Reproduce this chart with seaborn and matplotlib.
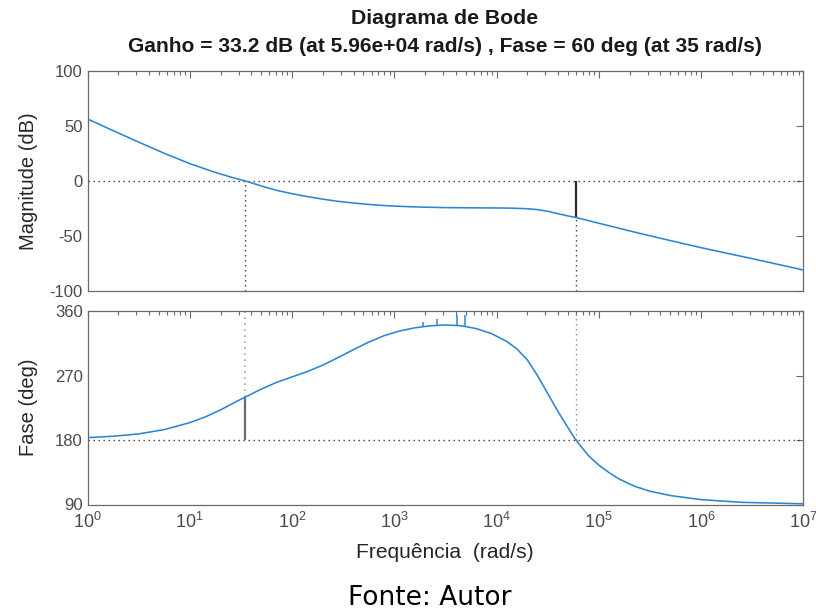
import matplotlib
matplotlib.use("Agg")
import numpy as np
import pandas as pd
import seaborn as sns
import matplotlib.pyplot as plt
from matplotlib import font_manager
from matplotlib.ticker import FixedLocator, LogLocator, NullFormatter

# ---------------- data ----------------
mag_w = [1, 1.78, 3.16, 5.62, 10, 17.8, 25.1, 35, 50.1, 70.8, 100, 141,
         200, 282, 398, 562, 794, 1122, 1778, 3162, 5623, 1.0e4, 14125,
         19953, 25119, 31623, 39811, 50119, 59600, 79433, 1.0e5, 158489,
         251189, 398107, 630957, 1.0e6, 3162278, 1.0e7]
mag_db = [56.4, 45.8, 35.4, 25.2, 15.8, 7.8, 3.6, 0.0, -4.5, -8.5, -11.5,
          -14.2, -16.5, -18.5, -20.0, -21.3, -22.3, -23.0, -23.7, -24.2,
          -24.4, -24.5, -24.7, -25.2, -26.0, -27.5, -29.7, -31.8, -33.2,
          -36.0, -38.4, -43.0, -47.6, -52.0, -56.3, -60.6, -70.6, -80.9]

ph_w = [1, 1.78, 3.16, 5.62, 10, 14.1, 20, 26.3, 35, 50.1, 70.8, 100, 141,
        200, 282, 398, 562, 794, 1122, 1585, 2239, 3162, 4467, 6310, 8913,
        12589, 15849, 19953, 25119, 31623, 39811, 50119, 59600, 79433,
        1.0e5, 125893, 158489, 223872, 316228, 501187, 1.0e6, 2511886, 1.0e7]
ph_deg = [183.3, 185.2, 188.5, 194.5, 204.2, 212.0, 222.0, 231.0, 240.0,
          251.0, 260.5, 268.0, 275.5, 284.5, 295.0, 306.0, 316.5, 325.5,
          332.0, 336.5, 339.3, 340.5, 339.5, 335.5, 328.5, 317.6, 307.0,
          292.0, 270.0, 245.0, 220.0, 197.0, 180.0, 158.0, 145.0, 134.5,
          125.5, 115.5, 108.5, 102.5, 96.8, 93.0, 91.0]

spike_w = [1900, 2600, 4100, 4900]
spike_base = [338.0, 340.0, 340.0, 338.5]
spike_top = [345.2, 349.4, 354.0, 354.0]

gm_w, gm_db = 5.96e4, -33.2      # gain margin point
pm_w, pm_ph = 35.0, 240.0        # phase margin point

mag_ticks = [-100, -50, 0, 50, 100]
ph_ticks = [90, 180, 270, 360]
x_decades = [1, 10, 100, 1e3, 1e4, 1e5, 1e6, 1e7]
x_labels = [r"$10^{%d}$" % i for i in range(8)]

title1 = "Diagrama de Bode"
title2 = "Ganho = 33.2 dB (at 5.96e+04 rad/s) , Fase = 60 deg (at 35 rad/s)"
ylab1 = "Magnitude (dB)"
ylab2 = "Fase (deg)"
xlab = "Frequência  (rad/s)"
source = "Fonte: Autor"

# ---------------- style ----------------
sns.set_theme(style="white")
names = {f.name for f in font_manager.fontManager.ttflist}
MF = "Liberation Sans Narrow" if "Liberation Sans Narrow" in names else "Liberation Sans"
plt.rcParams["font.family"] = [MF, "DejaVu Sans"]
plt.rcParams["mathtext.fontset"] = "custom"
plt.rcParams["mathtext.rm"] = MF
plt.rcParams["mathtext.it"] = MF
plt.rcParams["mathtext.bf"] = MF
plt.rcParams["axes.unicode_minus"] = False

LINE = "#2a86d4"
SPINE = "#6a6a6a"
TXT = "#4a4a4a"
DOT = (0, (1, 2.6))

fig = plt.figure(figsize=(8.16, 6.12), dpi=100)
fig.patch.set_facecolor("white")
W, H = 816.0, 612.0
L, R = 87.5, 803.3
ax1 = fig.add_axes([L / W, 1 - 291 / H, (R - L) / W, (291 - 71) / H])
ax2 = fig.add_axes([L / W, 1 - 504.5 / H, (R - L) / W, (504.5 - 311) / H])

df_mag = pd.DataFrame({"w": mag_w, "mag": mag_db})
df_ph = pd.DataFrame({"w": ph_w, "ph": ph_deg})
sns.lineplot(data=df_mag, x="w", y="mag", ax=ax1, color=LINE, lw=1.15,
             sort=False, estimator=None, zorder=3)
sns.lineplot(data=df_ph, x="w", y="ph", ax=ax2, color=LINE, lw=1.15,
             sort=False, estimator=None, zorder=3)
ax2.vlines(spike_w, spike_base, spike_top, color=LINE, lw=1.1, zorder=3)

for ax in (ax1, ax2):
    ax.set_xscale("log")
    ax.set_xlim(1, 1e7)
    ax.set_facecolor("white")
    ax.grid(False)
    for s in ax.spines.values():
        s.set_color(SPINE)
        s.set_linewidth(0.9)
        s.set_visible(True)
    ax.xaxis.set_major_locator(FixedLocator(x_decades))
    ax.xaxis.set_minor_locator(LogLocator(base=10, subs=np.arange(2, 10), numticks=20))
    ax.xaxis.set_minor_formatter(NullFormatter())
    ax.tick_params(which="both", direction="in", top=True, right=True,
                   color=SPINE, labelcolor=TXT, width=0.8)
    ax.tick_params(which="major", length=5, labelsize=12)
    ax.tick_params(which="minor", length=2.8)
    ax.set_xlabel("")
    ax.set_ylabel("")

ax1.set_ylim(-100, 100)
ax1.set_yticks(mag_ticks)
ax1.set_xticklabels([])
ax2.set_ylim(90, 360)
ax2.set_yticks(ph_ticks)
ax2.set_xticks(x_decades)
ax2.set_xticklabels(x_labels)
ax2.tick_params(axis="x", which="major", labelsize=13, pad=5)

# margin markers
ax1.axhline(0, color="#3a3a3a", lw=1.0, ls=DOT, zorder=2)
ax1.vlines(pm_w, -100, 0, color="#3a3a3a", lw=1.0, ls=DOT, zorder=2)
ax1.vlines(gm_w, gm_db, 0, color="#2b2b2b", lw=1.6, zorder=2)
ax1.vlines(gm_w, -100, gm_db, color="#3a3a3a", lw=1.0, ls=DOT, zorder=2)
ax2.axhline(180, color="#3a3a3a", lw=1.0, ls=DOT, zorder=2)
ax2.vlines(pm_w, pm_ph, 360, color="#a8a8a8", lw=1.2, ls=DOT, zorder=2)
ax2.vlines(pm_w, 180, pm_ph, color="#6a6a6a", lw=1.6, zorder=2)
ax2.vlines(gm_w, 180, 360, color="#8a8a8a", lw=1.0, ls=DOT, zorder=2)

# texts
t1 = fig.text(445 / W, 1 - 18 / H, title1, ha="center", va="center",
              fontsize=13, fontweight="bold", color="#1a1a1a")
t2 = fig.text(445 / W, 1 - 46 / H, title2, ha="center", va="center",
              fontsize=13, fontweight="bold", color="#1a1a1a")
fig.text(28 / W, 1 - 181 / H, ylab1, rotation=90, ha="center", va="center",
         fontsize=14.5, color="#262626")
fig.text(28 / W, 1 - 407 / H, ylab2, rotation=90, ha="center", va="center",
         fontsize=14.5, color="#262626")
xl = fig.text(445 / W, 1 - 553 / H, xlab, ha="center", va="center",
              fontsize=13, color="#262626")
src = fig.text(430 / W, 1 - 598 / H, source, ha="center", va="center",
               fontsize=15, color="black", family=["DejaVu Sans"])

fig.canvas.draw()
rend = fig.canvas.get_renderer()


def fit(t, target):
    bb = t.get_window_extent(rend)
    t.set_fontsize(t.get_fontsize() * target / bb.width)


fit(t1, 186)
fit(t2, 630)
fit(xl, 177)
fit(src, 163)

fig.savefig("out.png", dpi=100, facecolor="white")
